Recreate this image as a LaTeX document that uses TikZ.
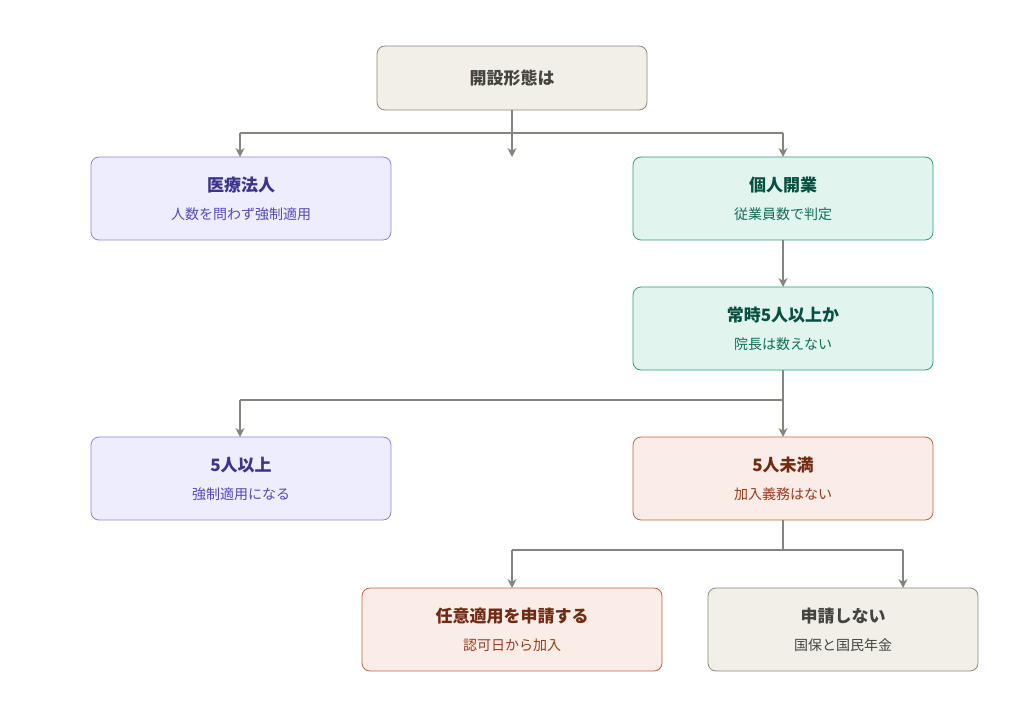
\documentclass[tikz,border=0pt]{standalone}
\usepackage{fontspec}
\setmainfont{Noto Sans CJK JP}
\usetikzlibrary{arrows.meta}
\definecolor{gfill}{HTML}{F1EFE8}\definecolor{gdraw}{HTML}{8A8880}\definecolor{gtext}{HTML}{444441}
\definecolor{pfill}{HTML}{EEEDFE}\definecolor{pdraw}{HTML}{8C84E0}\definecolor{ptext}{HTML}{3C3489}\definecolor{psub}{HTML}{534AB7}
\definecolor{tfill}{HTML}{E1F5EE}\definecolor{tdraw}{HTML}{2E9C78}\definecolor{ttext}{HTML}{085041}\definecolor{tsub}{HTML}{0F6E56}
\definecolor{cfill}{HTML}{FAECE7}\definecolor{cdraw}{HTML}{C2623F}\definecolor{ctext}{HTML}{712B13}\definecolor{csub}{HTML}{993C1D}
\definecolor{line}{HTML}{85847E}
\begin{document}
\begin{tikzpicture}[x=1pt,y=-1pt,
 box/.style={rounded corners=8pt,line width=0.8pt},
 ttl/.style={font=\bfseries\fontsize{17}{20}\selectfont},
 sub/.style={font=\fontsize{14}{17}\selectfont},
 conn/.style={draw=line,line width=2pt,-{Stealth[length=9pt,width=9pt]}},
 seg/.style={draw=line,line width=2pt}]
\useasboundingbox (0,0) rectangle (1024,708);
\newcommand{\bx}[9]{%
 \draw[box,fill=#3,draw=#4] (#1-#8,#2-41.5) rectangle (#1+#8,#2+41.5);
 \node[ttl,text=#5] (#9) at (#1,#2-14) {#6};
 \node[sub,text=#7] (#9s) at (#1,#2+15) {#9x};}
% top
\draw[box,fill=gfill,draw=gdraw] (377,46) rectangle (647,110);
\node[ttl,text=gtext] (top) at (512,78) {開設形態は};
\coordinate (tb) at (512,110);
% boxes
\draw[box,fill=pfill,draw=pdraw] (91,157) rectangle (391,240);
\node[ttl,text=ptext] (iryo) at (241,185) {医療法人};
\node[sub,text=psub] (iryos) at (241,214) {人数を問わず強制適用};
\draw[box,fill=tfill,draw=tdraw] (633,157) rectangle (933,240);
\node[ttl,text=ttext] (kojin) at (783,185) {個人開業};
\node[sub,text=tsub] (kojins) at (783,214) {従業員数で判定};
\draw[box,fill=tfill,draw=tdraw] (633,287) rectangle (933,370);
\node[ttl,text=ttext] (joji) at (783,315) {常時5人以上か};
\node[sub,text=tsub] (jojis) at (783,344) {院長は数えない};
\draw[box,fill=pfill,draw=pdraw] (91,437) rectangle (391,520);
\node[ttl,text=ptext] (ijo) at (241,465) {5人以上};
\node[sub,text=psub] (ijos) at (241,494) {強制適用になる};
\draw[box,fill=cfill,draw=cdraw] (633,437) rectangle (933,520);
\node[ttl,text=ctext] (miman) at (783,465) {5人未満};
\node[sub,text=csub] (mimans) at (783,494) {加入義務はない};
\draw[box,fill=cfill,draw=cdraw] (362,588) rectangle (662,671);
\node[ttl,text=ctext] (nini) at (512,616) {任意適用を申請する};
\node[sub,text=csub] (ninis) at (512,645) {認可日から加入};
\draw[box,fill=gfill,draw=gdraw] (708,588) rectangle (978,671);
\node[ttl,text=gtext] (nashi) at (843,616) {申請しない};
\node[sub,text=gtext] (nashis) at (843,645) {国保と国民年金};
% coordinates
\coordinate (a1) at (240,157); \coordinate (a2) at (512,157); \coordinate (a3) at (783,157);
\coordinate (j1) at (512,133); \coordinate (h1) at (240,133); \coordinate (h2) at (783,133);
\draw[seg] (tb) -- (j1); \draw[seg] (h1) -- (h2);
\draw[conn] (h1) -- (a1); \draw[conn] (j1) -- (a2); \draw[conn] (h2) -- (a3);
\coordinate (kb) at (783,240); \coordinate (jt) at (783,287);
\draw[conn] (kb) -- (jt);
\coordinate (jb) at (783,370); \coordinate (m1) at (783,400); \coordinate (m2) at (240,400);
\coordinate (b1) at (240,437); \coordinate (b2) at (783,437);
\draw[seg] (jb) -- (m1); \draw[seg] (m2) -- (m1);
\draw[conn] (m2) -- (b1); \draw[conn] (m1) -- (b2);
\coordinate (mb) at (783,520); \coordinate (n0) at (783,550); \coordinate (n1) at (512,550); \coordinate (n2) at (903,550);
\coordinate (c1) at (512,588); \coordinate (c2) at (903,588);
\draw[seg] (mb) -- (n0); \draw[seg] (n1) -- (n2);
\draw[conn] (n1) -- (c1); \draw[conn] (n2) -- (c2);
\end{tikzpicture}
\end{document}
